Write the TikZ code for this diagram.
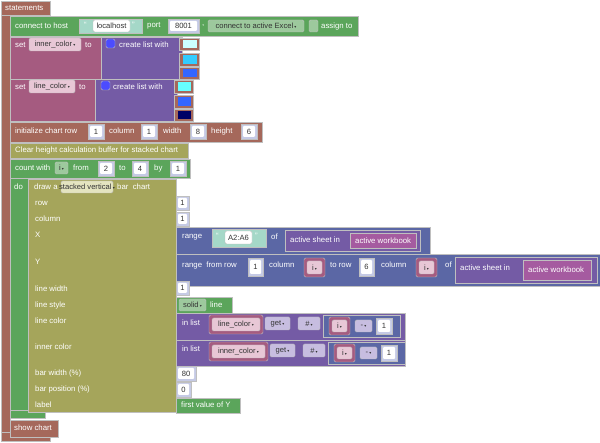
\documentclass[tikz,border=0pt]{standalone}
\usepackage{fontspec}
\setmainfont{Liberation Sans}
\newfontfamily\symf{DejaVu Sans}
\definecolor{brn}{HTML}{A5685B}
\definecolor{grn}{HTML}{5BA55B}
\definecolor{grnl}{HTML}{9DC99D}
\definecolor{mar}{HTML}{A55B80}
\definecolor{marl}{HTML}{E8C7D6}
\definecolor{pur}{HTML}{745BA5}
\definecolor{purl}{HTML}{C7BDE0}
\definecolor{oli}{HTML}{A5A55B}
\definecolor{olil}{HTML}{E4E4C0}
\definecolor{blu}{HTML}{5B67A5}
\definecolor{numo}{HTML}{C5CAE5}
\definecolor{teal}{HTML}{A5D8C8}
\definecolor{txtd}{HTML}{333333}
\definecolor{cA}{HTML}{CCFFFF}
\definecolor{cB}{HTML}{33CCFF}
\definecolor{cC}{HTML}{3366FF}
\definecolor{cD}{HTML}{66FFFF}
\definecolor{cE}{HTML}{000066}
\definecolor{wbk}{HTML}{A55BA0}
\tikzset{lbl/.style={anchor=west,text=white,font=\fontsize{7.8}{9}\selectfont,inner sep=0pt},
ftxt/.style={text=txtd,font=\fontsize{7.6}{9}\selectfont,inner sep=0pt},
edge/.style={draw=black!25,line width=0.4pt}}
\newcommand\bx[5]{\filldraw[edge,fill=#5] (#1,#2) rectangle (#3,#4);}
\newcommand\fld[6]{\filldraw[edge,fill=#5,rounded corners=1.5] (#1,#2) rectangle (#3,#4);
  \node[ftxt] at ({(#1+#3)/2},{(#2+#4)/2}) {#6};}
\newcommand\numb[5]{\filldraw[edge,fill=numo] (#1,#2) rectangle (#3,#4);
  \fill[white,rounded corners=1] ({#1+2},{#2+2}) rectangle ({#3-2},{#4-2});
  \node[ftxt] at ({(#1+#3)/2},{(#2+#4)/2}) {#5};}
\newcommand\dd{\,{\symf\fontsize{4}{4}\selectfont▾}}
\newcommand\T[3]{\node[lbl] at (#1,#2) {#3};}
\begin{document}
\begin{tikzpicture}[x=1pt,y=-1pt]
\useasboundingbox (0,0) rectangle (600,443);
% statements frame
\bx{1}{1}{50}{15}{brn}
\bx{1}{15}{10}{441}{brn}
\bx{1}{432}{50}{441}{brn}
\T{5}{8}{statements}
% connect
\bx{10}{16}{358}{36}{grn}
\T{15}{26}{connect to host}
\bx{79}{19}{142}{33}{teal}
\T{84}{25}{\textquotedblleft}
\fld{93}{20}{130}{32}{white}{localhost}
\T{132}{25}{\textquotedblright}
\T{147}{26}{port}
\numb{168}{19}{199}{33}{8001}
\T{202}{26}{,}
\fld{208}{20}{304}{32}{grnl}{connect to active Excel\dd}
\fld{309}{20}{318}{32}{grnl}{}
\T{321}{26}{assign to}
% set inner_color
\bx{10}{37}{101}{79}{mar}
\bx{101}{37}{182}{79}{pur}
\T{15}{45}{set}
\fld{29}{38}{81}{51}{marl}{inner\_color\dd}
\T{85}{45}{to}
\fld{106}{39}{115}{48}{blue!70}{}
\T{119}{45}{create list with}
\bx{179}{38}{199}{50}{brn}\fill[cA] (183,40) rectangle (197,48);
\bx{179}{53}{199}{66}{brn}\fill[cB] (183,55) rectangle (197,64);
\bx{179}{67}{199}{79}{brn}\fill[cC] (183,69) rectangle (197,77);
% set line_color
\bx{10}{79}{95}{121}{mar}
\bx{95}{79}{177}{121}{pur}
\T{15}{87}{set}
\fld{29}{80}{75}{93}{marl}{line\_color\dd}
\T{79}{87}{to}
\fld{101}{81}{110}{90}{blue!70}{}
\T{113}{87}{create list with}
\bx{174}{80}{193}{93}{brn}\fill[cD] (178,82) rectangle (191,91);
\bx{174}{95}{193}{108}{brn}\fill[cC] (178,97) rectangle (191,106);
\bx{174}{109}{193}{121}{brn}\fill[cE] (178,111) rectangle (191,119);
% initialize chart
\bx{10}{122}{262}{142}{brn}
\T{15}{131}{initialize chart row}
\numb{88}{124}{104}{139}{1}
\T{109}{131}{column}
\numb{141}{124}{157}{139}{1}
\T{163}{131}{width}
\numb{190}{124}{206}{139}{8}
\T{211}{131}{height}
\numb{241}{124}{257}{139}{6}
% clear
\bx{10}{143}{188}{158}{oli}
\T{15}{150}{Clear height calculation buffer for stacked chart}
% count with
\bx{10}{159}{190}{178}{grn}
\T{15}{168}{count with}
\fld{55}{162}{68}{174}{grnl}{i\dd}
\T{73}{168}{from}
\numb{98}{161}{114}{176}{2}
\T{119}{168}{to}
\numb{132}{161}{148}{176}{4}
\T{154}{168}{by}
\numb{170}{161}{186}{176}{1}
\bx{10}{178}{28}{418}{grn}
\bx{10}{410}{45}{418}{grn}
\T{14}{187}{do}
% draw block
\bx{28}{179}{176}{412}{oli}
\T{34}{187}{draw a}
\fld{61}{181}{113}{193}{olil}{stacked vertical\dd}
\T{117}{187}{bar\ \ chart}
\T{35}{203}{row}
\T{35}{219}{column}
\T{35}{235}{X}
\T{35}{262}{Y}
\T{35}{289}{line width}
\T{35}{305}{line style}
\T{35}{321}{line color}
\T{35}{347}{inner color}
\T{35}{373}{bar width (\%)}
\T{35}{389}{bar position (\%)}
\T{35}{405}{label}
\numb{176}{196}{189}{210}{1}
\numb{176}{212}{189}{226}{1}
% X range
\bx{176}{227}{430}{254}{blu}
\T{182}{237}{range}
\bx{212}{229}{266}{247}{teal}
\T{216}{236}{\textquotedblleft}
\fld{225}{231}{252}{244}{white}{A2:A6}
\T{255}{236}{\textquotedblright}
\T{271}{237}{of}
\bx{285}{230}{420}{251}{pur}
\T{290}{240}{active sheet in}
\bx{350}{233}{416}{248}{wbk}
\T{355}{241}{active workbook}
% Y range
\bx{176}{254}{600}{286}{blu}
\T{182}{265}{range\ \ from row}
\numb{248}{258}{263}{276}{1}
\T{269}{265}{column}
\fld{304}{258}{325}{277}{mar}{}
\fld{307}{261}{322}{274}{marl}{i\dd}
\T{330}{265}{to row}
\numb{359}{258}{374}{276}{6}
\T{381}{265}{column}
\fld{416}{258}{437}{277}{mar}{}
\fld{419}{261}{434}{274}{marl}{i\dd}
\T{445}{265}{of}
\bx{455}{257}{597}{283}{pur}
\T{460}{268}{active sheet in}
\bx{523}{260}{591}{280}{wbk}
\T{528}{270}{active workbook}
% line width
\numb{176}{281}{189}{295}{1}
% line style
\bx{176}{297}{232}{313}{grn}
\fld{179}{299}{206}{311}{grnl}{solid\dd}
\T{210}{305}{line}
% line color
\bx{176}{313}{405}{340}{pur}
\T{182}{323}{in list}
\fld{209}{315}{263}{334}{mar}{}
\fld{212}{318}{260}{331}{marl}{line\_color\dd}
\fld{265}{317}{290}{330}{purl}{get\dd}
\fld{298}{317}{320}{330}{purl}{\#\dd}
\bx{323}{315}{400}{337}{blu}
\fld{329}{317}{350}{335}{mar}{}
\fld{332}{320}{347}{332}{marl}{i\dd}
\fld{355}{320}{372}{332}{purl}{-\dd}
\numb{376}{318}{392}{334}{1}
% inner color
\bx{176}{340}{405}{366}{pur}
\T{182}{349}{in list}
\fld{209}{342}{268}{361}{mar}{}
\fld{212}{345}{265}{358}{marl}{inner\_color\dd}
\fld{270}{344}{295}{357}{purl}{get\dd}
\fld{303}{344}{325}{357}{purl}{\#\dd}
\bx{328}{342}{405}{364}{blu}
\fld{334}{344}{355}{362}{mar}{}
\fld{337}{347}{352}{359}{marl}{i\dd}
\fld{360}{347}{377}{359}{purl}{-\dd}
\numb{381}{345}{397}{361}{1}
% bar width / position / label
\numb{176}{366}{196}{381}{80}
\numb{176}{382}{191}{397}{0}
\bx{176}{398}{240}{413}{grn}
\T{181}{405}{first value of Y}
% show chart
\bx{10}{420}{58}{437}{brn}
\T{14}{428}{show chart}
\end{tikzpicture}
\end{document}
